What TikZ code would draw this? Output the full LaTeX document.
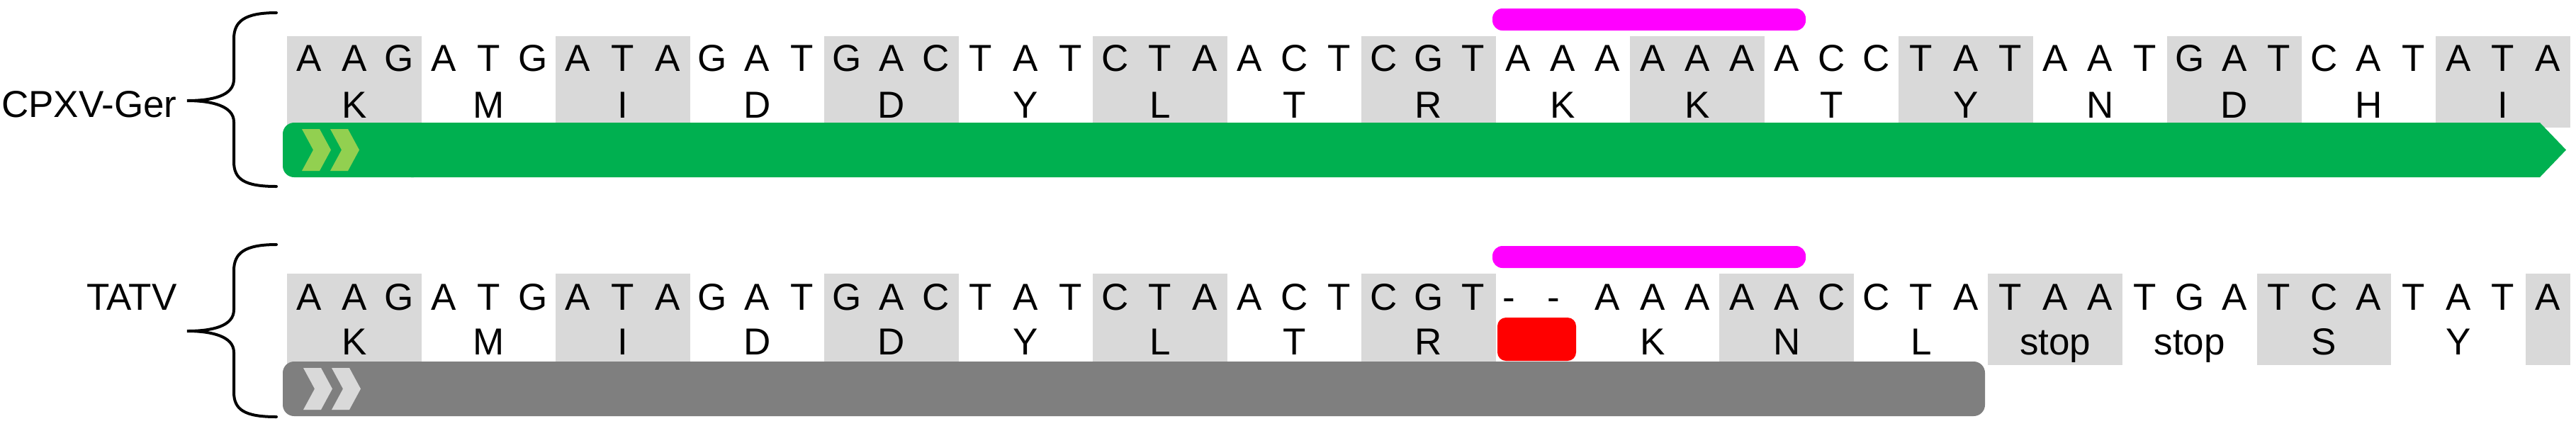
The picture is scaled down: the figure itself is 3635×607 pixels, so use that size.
\documentclass[tikz,border=0pt]{standalone}
\usepackage{fontspec}
\setmainfont{Liberation Sans}
\definecolor{boxgray}{HTML}{D9D9D9}
\definecolor{bargreen}{HTML}{00B050}
\definecolor{chevgreen}{HTML}{92D050}
\definecolor{bargray}{HTML}{7F7F7F}
\definecolor{hlmag}{HTML}{FF00FF}
\definecolor{delred}{HTML}{FF0000}
\tikzset{
  seq/.style={font=\fontsize{26.5}{30}\selectfont, anchor=base, inner sep=0pt},
  lbl/.style={font=\fontsize{26.5}{30}\selectfont, anchor=base east, inner sep=0pt},
  codonbox/.style={fill=boxgray},
  bracestroke/.style={line width=2pt, line cap=round, draw=black},
  chevron/.pic={\fill (0,0) -- (25,0) -- (41,29.5) -- (25,59) -- (0,59) -- (16,29.5) -- cycle;}
}
\begin{document}
\begin{tikzpicture}[x=0.5pt,y=-0.5pt]
\useasboundingbox (0,0) rectangle (3635,607);
% ---------------- top: CPXV-Ger ----------------
\node[lbl] (lblcpxv) at (250,165) {CPXV-Ger};
\draw[bracestroke] (390,18) .. controls (345,18) and (330,30) .. (330,55) -- (330,112)
  .. controls (330,135) and (300,142) .. (264,142)
  .. controls (300,142) and (330,150) .. (330,172) -- (330,228)
  .. controls (330,253) and (345,263) .. (390,263);
\foreach \k in {0,2,...,16}
  \fill[codonbox] ({405+\k*189.5},51) rectangle ++(189.5,129);
\fill[hlmag, rounded corners=7pt] (2106,12) rectangle (2548,43);
\fill[bargreen, rounded corners=8pt] (399,173) rectangle (600,250);
\fill[bargreen] (580,173) -- (3584,173) -- (3621,211.5) -- (3584,250) -- (580,250) -- cycle;
\fill[chevgreen] (426,182) pic {chevron};
\fill[chevgreen] (466,182) pic {chevron};
\foreach \c [count=\i from 0] in {A,A,G,A,T,G,A,T,A,G,A,T,G,A,C,T,A,T,C,T,A,A,C,T,C,G,T,A,A,A,A,A,A,A,C,C,T,A,T,A,A,T,G,A,T,C,A,T,A,T,A}
  \node[seq] (tn\i) at ({405+(\i+0.5)*63.17},100) {\c};
\foreach \a [count=\k from 0] in {K,M,I,D,D,Y,L,T,R,K,K,T,Y,N,D,H,I}
  \node[seq] (ta\k) at ({405+(3*\k+1.5)*63.17},166) {\a};
% ---------------- bottom: TATV ----------------
\node[lbl] (lbltatv) at (250,437) {TATV};
\draw[bracestroke] (390,345) .. controls (345,345) and (330,357) .. (330,382) -- (330,437)
  .. controls (330,460) and (300,467) .. (264,467)
  .. controls (300,467) and (330,475) .. (330,497) -- (330,553)
  .. controls (330,578) and (345,588) .. (390,588);
\foreach \s/\n in {0/3,6/3,12/3,18/3,24/3,32/3,38/3,44/3,50/1}
  \fill[codonbox] ({405+\s*63.17},386) rectangle ++({\n*63.17},129);
\fill[hlmag, rounded corners=7pt] (2106,347) rectangle (2548,378);
\fill[bargray, rounded corners=8pt] (399,510) rectangle (2801,587);
\fill[boxgray] (428,519) pic {chevron};
\fill[boxgray] (468,519) pic {chevron};
\fill[delred, rounded corners=6pt] (2113,448) rectangle (2224,509);
\foreach \c [count=\i from 0] in {A,A,G,A,T,G,A,T,A,G,A,T,G,A,C,T,A,T,C,T,A,A,C,T,C,G,T}
  \node[seq] (bn\i) at ({405+(\i+0.5)*63.17},437) {\c};
\node[seq] (bn27) at ({405+27.5*63.17-13},437) {-};
\node[seq] (bn28) at ({405+28.5*63.17-13},437) {-};
\foreach \c [count=\i from 29] in {A,A,A,A,A,C,C,T,A,T,A,A,T,G,A,T,C,A,T,A,T,A}
  \node[seq] (bn\i) at ({405+(\i+0.5)*63.17},437) {\c};
\foreach \a [count=\k from 0] in {K,M,I,D,D,Y,L,T,R}
  \node[seq] (ba\k) at ({405+(3*\k+1.5)*63.17},500) {\a};
\foreach \s/\a [count=\k from 10] in {29/K,32/N,35/L,38/stop,41/stop,44/S,47/Y}
  \node[seq] (ba\k) at ({405+(\s+1.5)*63.17},500) {\a};
\end{tikzpicture}
\end{document}
